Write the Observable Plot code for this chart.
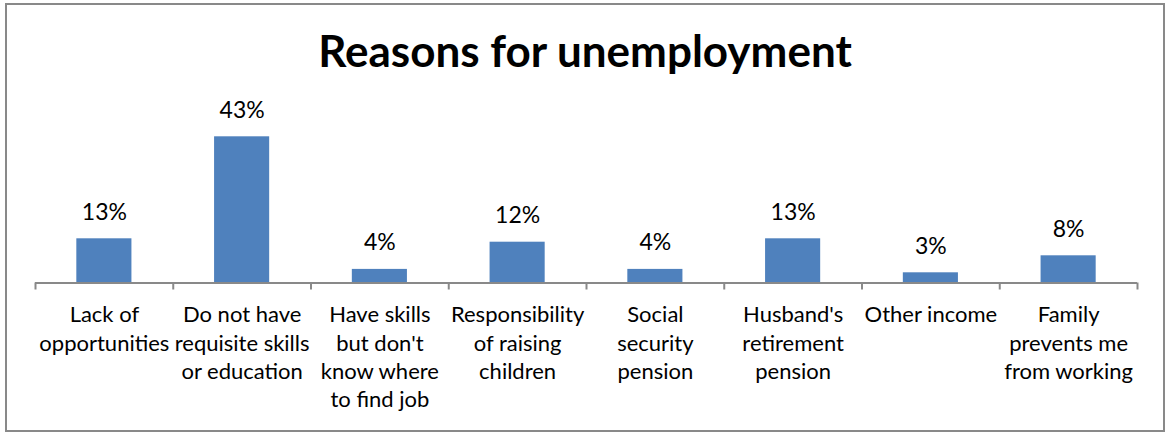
<!DOCTYPE html>
<html>
<head>
<meta charset="utf-8">
<script src="https://cdn.jsdelivr.net/npm/d3@7"></script>
<script src="https://cdn.jsdelivr.net/npm/@observablehq/plot@0.6"></script>
<style>
  html, body { margin: 0; padding: 0; background: #fff; }
  #wrap { position: relative; width: 1166px; height: 432px; overflow: hidden; font-family: Lato, "Open Sans", sans-serif; }
  #frame { position: absolute; left: 5px; top: 3px; width: 1156px; height: 425px; border: 2px solid #898989; box-sizing: content-box; }
  #title { position: absolute; left: 5px; width: 1160px; top: 28px; text-align: center; font-weight: bold; font-size: 44px; color: #000; line-height: 1; }
  #chart { position: absolute; left: 0; top: 0; }
</style>
</head>
<body>
<div id="wrap">
  <div id="frame"></div>
  <div id="title">Reasons for unemployment</div>
  <div id="chart"></div>
</div>
<script>
const categories = [
  "Lack of\nopportunities",
  "Do not have\nrequisite skills\nor education",
  "Have skills\nbut don't\nknow where\nto find job",
  "Responsibility\nof raising\nchildren",
  "Social\nsecurity\npension",
  "Husband's\nretirement\npension",
  "Other income",
  "Family\nprevents me\nfrom working"
];
const values = [13, 43, 4, 12, 4, 13, 3, 8];
const valueLabels = ["13%", "43%", "4%", "12%", "4%", "13%", "3%", "8%"];

const data = categories.map((c, i) => ({idx: i, category: c, value: values[i], label: valueLabels[i]}));
const boundaries = d3.range(0, categories.length + 1);

const chart = Plot.plot({
  width: 1166,
  height: 432,
  marginLeft: 35,
  marginRight: 29,
  marginTop: 112.5,
  marginBottom: 149.5,
  style: {fontFamily: "Lato, 'Open Sans', sans-serif", background: "transparent", overflow: "visible"},
  x: {type: "linear", domain: [0, categories.length], axis: null},
  y: {type: "linear", domain: [0, 50], axis: null},
  marks: [
    Plot.rectY(data, {x1: d => d.idx + 0.3, x2: d => d.idx + 0.7, y1: 0, y2: "value", fill: "#4F81BD"}),
    Plot.ruleY([0], {stroke: "#898989", strokeWidth: 2}),
    Plot.axisX({ticks: boundaries, tickSize: 7, tickFormat: () => "", stroke: "#898989", strokeWidth: 2, strokeOpacity: 1}),
    Plot.text(data, {x: d => d.idx + 0.5, y: "value", text: "label", lineAnchor: "bottom", dy: -19, fontSize: 23, fill: "#000"}),
    Plot.text(data, {x: d => d.idx + 0.5, y: 0, text: "category", lineAnchor: "top", dy: 19, fontSize: 22, lineHeight: 1.29, fill: "#000"})
  ]
});
document.getElementById("chart").appendChild(chart);
</script>
</body>
</html>
